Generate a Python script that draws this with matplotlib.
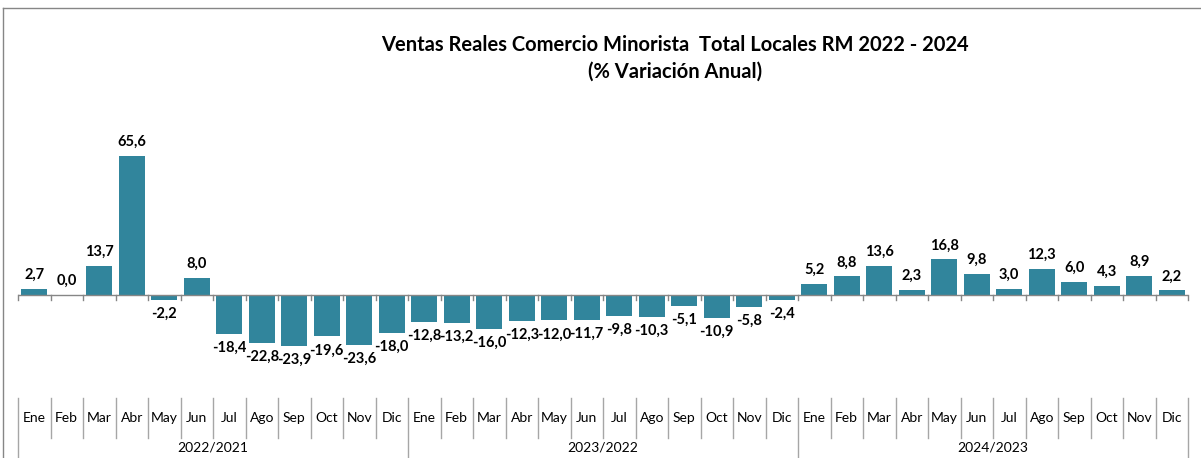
import numpy as np
import matplotlib.pyplot as plt
from matplotlib.lines import Line2D
import matplotlib.transforms as mtransforms

plt.rcParams['font.family'] = ['Lato', 'DejaVu Sans']

months = ['Ene', 'Feb', 'Mar', 'Abr', 'May', 'Jun',
          'Jul', 'Ago', 'Sep', 'Oct', 'Nov', 'Dic']
groups = ['2022/2021', '2023/2022', '2024/2023']
v2022 = [2.7, 0.0, 13.7, 65.6, -2.2, 8.0, -18.4, -22.8, -23.9, -19.6, -23.6, -18.0]
v2023 = [-12.8, -13.2, -16.0, -12.3, -12.0, -11.7, -9.8, -10.3, -5.1, -10.9, -5.8, -2.4]
v2024 = [5.2, 8.8, 13.6, 2.3, 16.8, 9.8, 3.0, 12.3, 6.0, 4.3, 8.9, 2.2]

values = v2022 + v2023 + v2024
labels = months * len(groups)
n = len(values)
x = np.arange(n)
W, H = 1201, 458

fig = plt.figure(figsize=(W/100, H/100), dpi=100)
# axes placed in pixel terms: x 18..1188, y 120..395 (from top)
ax = fig.add_axes([18/W, 1 - 395/H, 1170/W, 275/H])
ax.set_xlim(-0.5, n - 0.5)
ax.set_ylim(-47.2, 82.5)
ax.axis('off')

bar_color = '#31859C'
ax.bar(x, values, width=0.8, color=bar_color, zorder=2)

# zero line with small ticks at category boundaries
ax.axhline(0, color='#868686', lw=1, zorder=3)
for b in np.arange(-0.5, n, 1.0):
    ax.plot([b, b], [0, -2.4], color='#868686', lw=1, zorder=3, clip_on=False)

# data labels
for xi, v in zip(x, values):
    lab = f"{v:.1f}".replace('.', ',')
    if v >= 0:
        ax.annotate(lab, (xi, v), xytext=(0, 5), textcoords='offset points',
                    ha='center', va='bottom', fontsize=10.5, fontweight='bold')
    else:
        ax.annotate(lab, (xi, v), xytext=(0, -5), textcoords='offset points',
                    ha='center', va='top', fontsize=10.5, fontweight='bold')

# multi-level category axis
trans = mtransforms.blended_transform_factory(ax.transData, ax.transAxes)
def ay(p):
    return (395 - p) / 275

sep_color = '#A6A6A6'
for i in range(n):
    ax.text(i, ay(418), labels[i], transform=trans, ha='center', va='center',
            fontsize=10)
for b in range(n + 1):
    bx = b - 0.5
    bottom = ay(460) if b % 12 == 0 else ay(438)
    ax.add_line(Line2D([bx, bx], [ay(398), bottom], transform=trans,
                       color=sep_color, lw=1, clip_on=False))
for g, name in enumerate(groups):
    ax.text(g * 12 + 5.5, ay(447), name, transform=trans, ha='center',
            va='center', fontsize=10)

# title
fig.text(675/W, 1 - 45/H, 'Ventas Reales Comercio Minorista  Total Locales RM 2022 - 2024',
         ha='center', va='center', fontsize=14.5, fontweight='bold')
fig.text(675/W, 1 - 72/H, '(% Variación Anual)',
         ha='center', va='center', fontsize=14.5, fontweight='bold')

# chart border (top and left visible)
fig.add_artist(Line2D([3/W, 1], [1 - 8/H, 1 - 8/H], color='#868686', lw=1))
fig.add_artist(Line2D([3/W, 3/W], [0, 1 - 8/H], color='#868686', lw=1))

plt.savefig('out.png', dpi=100)
